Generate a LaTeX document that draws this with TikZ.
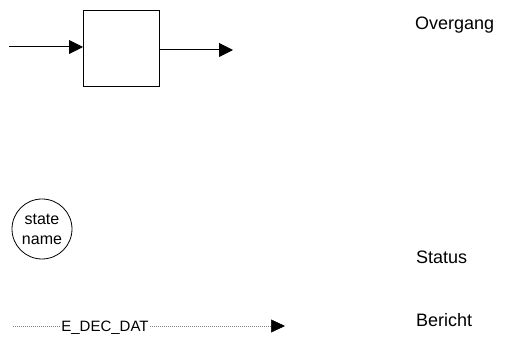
\documentclass[tikz,border=0pt]{standalone}
\usepackage{fontspec}
\setmainfont{Liberation Sans}
\usetikzlibrary{arrows.meta}
\begin{document}
\begin{tikzpicture}[x=1pt,y=-1pt,
  conn/.style={line width=1pt, -{Triangle[length=14pt,width=14pt]}},
  msg/.style={line width=0.5pt, gray, dash pattern=on 1pt off 1pt},
  msgtip/.style={-{Triangle[length=14pt,width=13pt,black]}},
  lbl/.style={font=\fontsize{18}{21}\selectfont, anchor=base west, inner sep=0pt},
  small/.style={font=\fontsize{15}{18}\selectfont}
]
\useasboundingbox (0,0) rectangle (528,347);
% transition
\node[draw, line width=1pt, minimum width=76pt, minimum height=76pt, inner sep=0pt, anchor=north west] (box) at (83,10) {};
\coordinate (inS) at (9,47);
\draw[conn] (inS) -- (inS -| box.west);
\coordinate (outE) at (233,50);
\draw[conn] (outE -| box.east) -- (outE);
% state
\node[draw, circle, line width=0.8pt, minimum size=60pt, inner sep=0pt, align=center, font=\fontsize{16}{20}\selectfont] (st) at (42,229) {state\\name};
% message
\coordinate (mS) at (13,326);
\coordinate (mE) at (285,326);
\node[small, anchor=base, inner sep=1pt] (mt) at (105,332) {E\_DEC\_DAT};
\draw[msg] (mS) -- (mS -| mt.west);
\draw[msg, msgtip] (mS -| mt.east) -- (mE);
% labels
\node[lbl] (l1) at (415,30) {Overgang};
\node[lbl] (l2) at (416,264) {Status};
\node[lbl] (l3) at (416,327) {Bericht};
\end{tikzpicture}
\end{document}
